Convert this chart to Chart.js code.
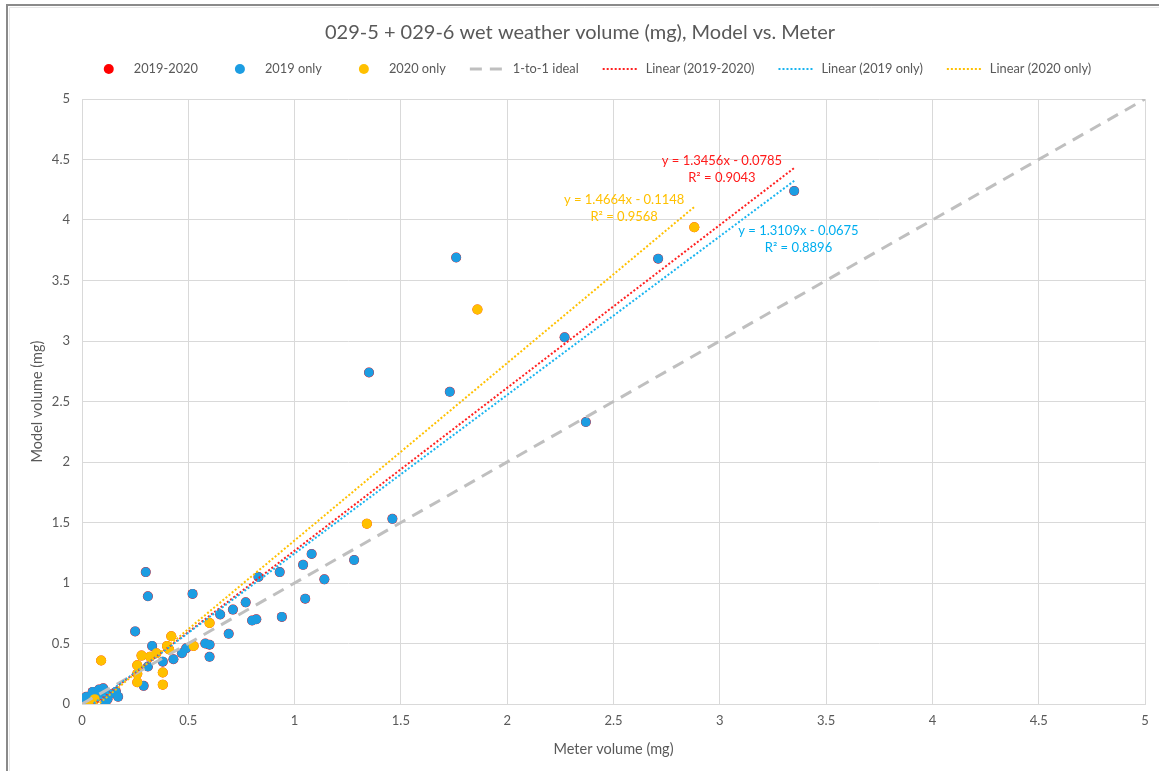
<!DOCTYPE html>
<html>
<head>
<meta charset="utf-8">
<title>029-5 + 029-6 wet weather volume</title>
<script src="https://cdn.jsdelivr.net/npm/chart.js@4.4.1/dist/chart.umd.min.js"></script>
<style>
  html, body { margin: 0; padding: 0; background: #fff; }
  #wrap { width: 1159px; height: 771px; }
</style>
</head>
<body>
<div id="wrap"><canvas id="chart" width="1159" height="771"></canvas></div>
<script>
// --- data (mg) ---
const blueX = [3.35, 1.76, 2.71, 2.27, 1.35, 1.73, 2.37, 1.46, 1.28, 1.08, 1.04, 0.93, 1.14, 0.83,
  0.30, 0.52, 0.31, 1.05, 0.77, 0.71, 0.65, 0.94, 0.80, 0.82, 0.69, 0.25, 0.58, 0.60, 0.60,
  0.49, 0.47, 0.43, 0.38, 0.33, 0.31, 0.29,
  0.02, 0.01, 0.01, 0.05, 0.08, 0.10, 0.07, 0.11, 0.13, 0.16, 0.17, 0.09, 0.04, 0.12];
const blueY = [4.24, 3.69, 3.68, 3.03, 2.74, 2.58, 2.33, 1.53, 1.19, 1.24, 1.15, 1.09, 1.03, 1.05,
  1.09, 0.91, 0.89, 0.87, 0.84, 0.78, 0.74, 0.72, 0.69, 0.70, 0.58, 0.60, 0.50, 0.49, 0.39,
  0.46, 0.42, 0.37, 0.35, 0.48, 0.31, 0.15,
  0.06, 0.02, 0.00, 0.10, 0.12, 0.13, 0.06, 0.01, 0.08, 0.10, 0.06, 0.09, 0.03, 0.04];

const orangeX = [2.88, 1.86, 1.34, 0.60, 0.525, 0.42, 0.41, 0.40, 0.35, 0.32, 0.28, 0.26, 0.26, 0.26,
  0.38, 0.38, 0.09, 0.05, 0.06, 0.04];
const orangeY = [3.94, 3.26, 1.49, 0.67, 0.48, 0.56, 0.45, 0.48, 0.42, 0.39, 0.40, 0.32, 0.25, 0.18,
  0.26, 0.16, 0.36, 0.02, 0.04, 0.00];

// 2019-2020 = both years together (sits underneath the other two)
const allX = blueX.concat(orangeX);
const allY = blueY.concat(orangeY);

const idealX = [0, 5];
const idealY = [0, 5];

// trendline end points (from the equations shown on the chart)
const redTrendX = [0.01, 3.35];
const redTrendY = [-0.065, 4.43];
const blueTrendX = [0.01, 3.35];
const blueTrendY = [-0.054, 4.324];
const orangeTrendX = [0.04, 2.88];
const orangeTrendY = [-0.056, 4.108];

const xTickLabels = ['0', '0.5', '1', '1.5', '2', '2.5', '3', '3.5', '4', '4.5', '5'];
const yTickLabels = ['0', '0.5', '1', '1.5', '2', '2.5', '3', '3.5', '4', '4.5', '5'];

const trendText = [
  ['y = 1.3456x - 0.0785', 'R² = 0.9043'],
  ['y = 1.3109x - 0.0675', 'R² = 0.8896'],
  ['y = 1.4664x - 0.1148', 'R² = 0.9568']
];

const FONT = 'Lato, "Open Sans", sans-serif';
const GREY_TEXT = '#595959';

function pts(xs, ys) {
  return xs.map((x, i) => ({ x: x, y: ys[i] }));
}

// where the equation boxes sit (data units) + colours
const trendLabelPos = [
  { x: 3.01, y: 4.49, color: '#FF1A1A' },
  { x: 3.37, y: 3.91, color: '#00AEEF' },
  { x: 2.55, y: 4.17, color: '#FFC000' }
];

const decorPlugin = {
  id: 'decor',
  beforeDraw(chart) {
    const ctx = chart.ctx;
    ctx.save();
    ctx.fillStyle = '#fff';
    ctx.fillRect(0, 0, chart.width, chart.height);
    ctx.restore();
  },
  afterDraw(chart) {
    const ctx = chart.ctx;
    const xs = chart.scales.x, ys = chart.scales.y;
    ctx.save();

    // outer frame (top + left only visible in the crop)
    ctx.strokeStyle = '#8a8a8a';
    ctx.lineWidth = 2;
    ctx.beginPath();
    ctx.moveTo(7, chart.height);
    ctx.lineTo(7, 5);
    ctx.lineTo(chart.width, 5);
    ctx.stroke();
    ctx.strokeStyle = '#e6e6e6';
    ctx.lineWidth = 1;
    ctx.beginPath();
    ctx.moveTo(9.5, chart.height);
    ctx.lineTo(9.5, 7.5);
    ctx.lineTo(chart.width, 7.5);
    ctx.stroke();

    // title
    ctx.fillStyle = GREY_TEXT;
    ctx.font = '20px ' + FONT;
    ctx.textAlign = 'center';
    ctx.textBaseline = 'middle';
    ctx.fillText('029-5 + 029-6 wet weather volume (mg), Model vs. Meter', 580, 33);

    // legend
    ctx.font = '12.8px ' + FONT;
    const boxW = 36, textGap = 7, itemGap = 24;
    const items = chart.data.datasets.map(ds => ({ ds: ds, w: boxW + textGap + ctx.measureText(ds.label).width }));
    const total = items.reduce((s, it) => s + it.w, 0) + itemGap * (items.length - 1);
    let lx = 591 - total / 2;
    const ly = 69;
    items.forEach(it => {
      const ds = it.ds;
      if (ds.showLine) {
        ctx.save();
        ctx.strokeStyle = ds.borderColor;
        ctx.lineWidth = ds.borderWidth;
        ctx.setLineDash(ds.borderDash || []);
        ctx.beginPath();
        ctx.moveTo(lx, ly);
        ctx.lineTo(lx + boxW, ly);
        ctx.stroke();
        ctx.restore();
      } else {
        ctx.fillStyle = ds.backgroundColor;
        ctx.beginPath();
        ctx.arc(lx + boxW / 2, ly, 5, 0, Math.PI * 2);
        ctx.fill();
      }
      ctx.fillStyle = GREY_TEXT;
      ctx.textAlign = 'left';
      ctx.fillText(ds.label, lx + boxW + textGap, ly);
      lx += it.w + itemGap;
    });

    // trendline equations
    ctx.font = '13px ' + FONT;
    ctx.textAlign = 'center';
    trendText.forEach((lines, i) => {
      const p = trendLabelPos[i];
      const px = xs.getPixelForValue(p.x);
      const py = ys.getPixelForValue(p.y);
      ctx.fillStyle = p.color;
      ctx.fillText(lines[0], px, py);
      ctx.fillText(lines[1], px, py + 17);
    });
    ctx.restore();
  }
};

const ctx = document.getElementById('chart').getContext('2d');
new Chart(ctx, {
  type: 'scatter',
  data: {
    datasets: [
      { label: '2019-2020', data: pts(allX, allY), backgroundColor: '#FF0000', borderWidth: 0, pointRadius: 5, order: 7 },
      { label: '2019 only', data: pts(blueX, blueY), backgroundColor: '#1C9DE2', borderWidth: 0, pointRadius: 4.8, order: 6 },
      { label: '2020 only', data: pts(orangeX, orangeY), backgroundColor: '#FFC000', borderWidth: 0, pointRadius: 5, order: 5 },
      { label: '1-to-1 ideal', data: pts(idealX, idealY), showLine: true, borderColor: '#BFBFBF', borderWidth: 3,
        borderDash: [12, 8], pointRadius: 0, order: 4 },
      { label: 'Linear (2019-2020)', data: pts(redTrendX, redTrendY), showLine: true, borderColor: '#FF2020', borderWidth: 2,
        borderDash: [2, 2], pointRadius: 0, order: 3 },
      { label: 'Linear (2019 only)', data: pts(blueTrendX, blueTrendY), showLine: true, borderColor: '#19B4F0', borderWidth: 2,
        borderDash: [2, 2], pointRadius: 0, order: 2 },
      { label: 'Linear (2020 only)', data: pts(orangeTrendX, orangeTrendY), showLine: true, borderColor: '#FFC000', borderWidth: 2,
        borderDash: [2, 2], pointRadius: 0, order: 1 }
    ]
  },
  options: {
    responsive: false,
    animation: false,
    devicePixelRatio: 1,
    layout: { padding: { top: 99, right: 14, bottom: 0, left: 0 } },
    plugins: {
      legend: { display: false },
      title: { display: false },
      tooltip: { enabled: false }
    },
    scales: {
      x: {
        type: 'linear', min: 0, max: 5,
        ticks: { stepSize: 0.5, padding: 9, color: GREY_TEXT, font: { family: FONT, size: 13 },
          callback: (v, i) => xTickLabels[i] },
        grid: { color: '#D9D9D9', drawTicks: false },
        border: { color: '#D9D9D9' },
        title: { display: true, text: 'Meter volume (mg)', color: GREY_TEXT, font: { family: FONT, size: 14.5 },
          padding: { top: 4, bottom: 13 } },
        afterFit: s => { s.height = 67; }
      },
      y: {
        type: 'linear', min: 0, max: 5,
        ticks: { stepSize: 0.5, padding: 12, color: GREY_TEXT, font: { family: FONT, size: 13 },
          callback: (v, i) => yTickLabels[i] },
        grid: { color: '#D9D9D9', drawTicks: false },
        border: { color: '#D9D9D9' },
        title: { display: true, text: 'Model volume (mg)', color: GREY_TEXT, font: { family: FONT, size: 14.5 },
          padding: { top: 29, bottom: 0 } },
        afterFit: s => { s.width = 82; }
      }
    }
  },
  plugins: [decorPlugin]
});
</script>
</body>
</html>
